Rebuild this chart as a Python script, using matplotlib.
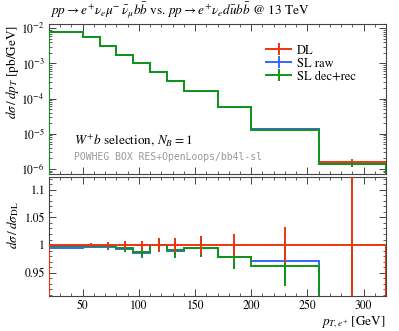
import numpy as np
import matplotlib
matplotlib.use("Agg")
import matplotlib.pyplot as plt
from matplotlib.ticker import LogLocator, MultipleLocator, NullFormatter, FixedLocator
from matplotlib.lines import Line2D

plt.rcParams['font.family'] = ['STIXGeneral', 'DejaVu Serif']
plt.rcParams['mathtext.fontset'] = 'stix'

# binning in pT(e+) [GeV]
edges = [20, 50, 65, 80, 95, 110, 125, 140, 170, 200, 260, 320]

# DL cross section [pb/GeV]
dl = [8.0e-3, 5.8e-3, 3.15e-3, 1.8e-3, 1.04e-3, 5.9e-4, 3.25e-4, 1.63e-4, 5.8e-5, 1.38e-5, 1.55e-6]
dl_err = [0.002, 0.003, 0.006, 0.007, 0.008, 0.012, 0.012, 0.016, 0.020, 0.033, 0.25]

# ratios to DL
ratio_raw = [0.995, 0.997, 0.996, 0.993, 0.985, 1.000, 0.990, 0.995, 0.978, 0.972, 0.89]
ratio_rec = [0.998, 0.999, 0.998, 0.994, 0.987, 1.001, 0.991, 0.995, 0.978, 0.962, 0.89]
raw_err = [0.002, 0.003, 0.005, 0.006, 0.008, 0.010, 0.014, 0.017, 0.022, 0.037, 0.13]
rec_err = [0.002, 0.003, 0.005, 0.006, 0.008, 0.010, 0.014, 0.017, 0.022, 0.037, 0.13]

labels = ["DL", "SL raw", "SL dec+rec"]
colors = ["#EE3311", "#3366FF", "#109618"]

edges = np.array(edges)
centers = 0.5 * (edges[1:] + edges[:-1])
dl = np.array(dl)
ratios = [np.ones_like(dl), np.array(ratio_raw), np.array(ratio_rec)]
errs = [np.array(dl_err), np.array(raw_err), np.array(rec_err)]

fig = plt.figure(figsize=(3.99, 3.31), dpi=100)
W, H = 399.0, 331.0
ax = fig.add_axes([49 / W, 1 - 174 / H, 337 / W, 150 / H])
rax = fig.add_axes([49 / W, 1 - 296 / H, 337 / W, 119 / H])

lw = 1.4
for i in range(3):
    vals = dl * ratios[i]
    ax.stairs(vals, edges, color=colors[i], lw=lw, zorder=2 + i)
    ax.errorbar(centers, vals, yerr=vals * errs[i], fmt='none', ecolor=colors[i],
                elinewidth=lw, zorder=2 + i)

# ratio panel: reference drawn on top
for i in [1, 2, 0]:
    z = 5 if i == 0 else 2 + i
    rax.stairs(ratios[i], edges, color=colors[i], lw=lw, zorder=z)
    rax.errorbar(centers, ratios[i], yerr=ratios[i] * errs[i], fmt='none',
                 ecolor=colors[i], elinewidth=lw, zorder=z)

ax.set_yscale('log')
ax.set_xlim(20, 320)
ax.set_ylim(10 ** -6.14, 10 ** -1.878)
rax.set_xlim(20, 320)
rax.set_ylim(0.908, 1.123)

for a in (ax, rax):
    a.tick_params(which='both', direction='in', top=True, right=True, labelsize=8.5,
                  color='#444444', pad=3)
    a.tick_params(which='major', length=5, width=0.7)
    a.tick_params(which='minor', length=2.5, width=0.6)
    a.xaxis.set_major_locator(MultipleLocator(50))
    a.xaxis.set_minor_locator(MultipleLocator(10))
    for s in a.spines.values():
        s.set_color('#444444')
        s.set_linewidth(0.8)

ax.tick_params(labelbottom=False)
ax.yaxis.set_major_locator(LogLocator(base=10, numticks=10))
ax.yaxis.set_minor_locator(LogLocator(base=10, subs=np.arange(2, 10), numticks=20))
ax.yaxis.set_minor_formatter(NullFormatter())

rax.yaxis.set_major_locator(FixedLocator([0.95, 1.0, 1.05, 1.1]))
rax.yaxis.set_minor_locator(MultipleLocator(0.01))
rax.set_yticklabels(["0.95", "1", "1.05", "1.1"])

# legend
handles = [Line2D([], [], color=c, lw=lw, marker='|', markersize=9, markeredgewidth=lw)
           for c in colors]
ax.legend(handles, labels, loc='upper right', bbox_to_anchor=(0.945, 0.935), frameon=False,
          fontsize=9, handlelength=2.0, handletextpad=0.5, labelspacing=0.1,
          numpoints=1)

ax.text(0.073, 0.22, r"$W^{+}b$ selection, $N_B = 1$", transform=ax.transAxes,
        fontsize=9.5, va='center', ha='left')
ax.text(0.073, 0.115, "POWHEG BOX RES+OpenLoops/bb4l-sl", transform=ax.transAxes,
        fontsize=7, va='center', ha='left', color='#999999', family='DejaVu Sans Mono')

fig.text(50 / W, 1 - 11 / H,
         r"$pp \to e^{+}\nu_{e}\mu^{-}\,\bar{\nu}_{\mu}b\bar{b}$ vs. "
         r"$pp \to e^{+}\nu_{e}d\bar{u}b\bar{b}$ @ 13 TeV",
         fontsize=9.5, ha='left', va='center')

fig.text(13 / W, 1 - 25 / H, r"$d\sigma\,/\,dp_{T}$ [pb/GeV]", rotation=90,
         fontsize=9.5, ha='center', va='top')
fig.text(13 / W, 1 - 201 / H, r"$d\sigma\,/\,d\sigma_{\mathrm{DL}}$", rotation=90,
         fontsize=9.5, ha='center', va='top')
fig.text(386 / W, 1 - 322 / H, r"$p_{T,e^{+}}$ [GeV]", fontsize=9.5, ha='right',
         va='center')

fig.savefig("out.png", dpi=100)
